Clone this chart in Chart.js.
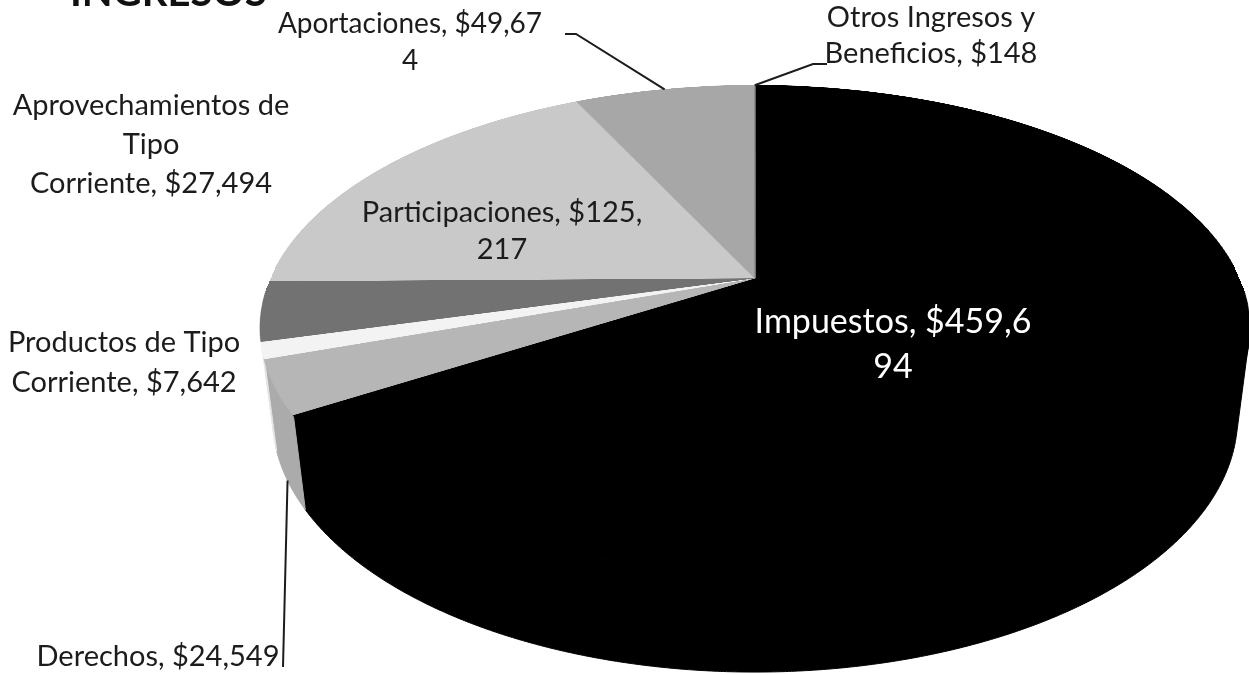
<!DOCTYPE html>
<html>
<head>
<meta charset="utf-8">
<script src="https://cdn.jsdelivr.net/npm/chart.js@4.4.1/dist/chart.umd.min.js"></script>
<style>
  html, body { margin: 0; padding: 0; background: #fff; }
  #wrap { position: relative; width: 1249px; height: 675px; }
</style>
</head>
<body>
<div id="wrap"><canvas id="ingresos"></canvas></div>
<script>
// Ingresos por rubro (pesos)
const categories = [
  "Impuestos",
  "Derechos",
  "Productos de Tipo Corriente",
  "Aprovechamientos de Tipo Corriente",
  "Participaciones",
  "Aportaciones",
  "Otros Ingresos y Beneficios"
];
const values = [459694, 24549, 7642, 27494, 125217, 49674, 148];
const sliceColors = ["#000000", "#b6b6b6", "#f3f3f3", "#727272", "#c9c9c9", "#a7a7a7", "#8c8c8c"];
const sideColors  = ["#000000", "#ababab", "#e4e4e4", "#666666", "#bdbdbd", "#9b9b9b", "#7e7e7e"];

// perspective camera for the tilted pie (radius = 1, wall height h)
const cam = { cx: 755, cy: 278, f: 2070, dist: 4.276, sinE: 0.48, h: 0.2125 };
cam.cosE = Math.sqrt(1 - cam.sinE * cam.sinE);

// label placement, text wrap points, leader lines
const labelLayout = [
  { x: 893, y: 333, lh: 45, size: 34, color: "#ffffff", breaks: [17] },
  { x: 158, y: 666, lh: 38, size: 29, breaks: [], leader: { frac: 0.5, wall: true, pts: [[283, 667]] } },
  { x: 124, y: 352, lh: 40, size: 29, breaks: [17] },
  { x: 151, y: 115, lh: 39, size: 29, breaks: [19, 24] },
  { x: 502, y: 222, lh: 37, size: 29, breaks: [22] },
  { x: 410, y: 33,  lh: 37, size: 28, breaks: [20], leader: { frac: 0.5, pts: [[576, 34], [565, 34]] } },
  { x: 931, y: 27,  lh: 36, size: 29, breaks: [16], leader: { frac: 0.5, pts: [[813, 64], [827, 64]] } }
];

function splitAt(text, breaks) {
  const out = [];
  let last = 0;
  breaks.forEach(b => { out.push(text.slice(last, b).trim()); last = b; });
  out.push(text.slice(last).trim());
  return out;
}

// X right, Y up, Z toward the viewer; returns screen [x, y]
function project(X, Y, Z) {
  const d = cam.dist - Y * cam.sinE - Z * cam.cosE;
  return [cam.cx + cam.f * X / d, cam.cy + cam.f * (Z * cam.sinE - Y * cam.cosE) / d];
}
// chart.js angle -> point on the rim (top face, or bottom of the wall)
function rimPoint(phi, bottom) {
  return project(Math.cos(phi), bottom ? -cam.h : 0, Math.sin(phi));
}

const SRC = 700; // radius of the flat pie drawn off screen
const flat = document.createElement("canvas");
flat.width = flat.height = SRC * 2;

const pie3d = {
  id: "pie3d",
  beforeDatasetsDraw(chart) {
    const ctx = chart.ctx;
    const arcs = chart.getDatasetMeta(0).data;
    const a0 = arcs[0];

    // 1. flat pie drawn by chart.js into an offscreen canvas
    const fctx = flat.getContext("2d");
    const k = SRC / a0.outerRadius;
    fctx.setTransform(1, 0, 0, 1, 0, 0);
    fctx.clearRect(0, 0, flat.width, flat.height);
    fctx.setTransform(k, 0, 0, k, SRC - a0.x * k, SRC - a0.y * k);
    arcs.forEach(a => a.draw(fctx));

    // 2. front wall: one band per slice over the part of the rim facing the camera
    const vis0 = Math.asin(1 / (cam.dist * cam.cosE)), vis1 = Math.PI - vis0;
    ctx.save();
    ctx.lineWidth = 1;
    arcs.forEach((a, i) => {
      let s = a.startAngle, e = a.endAngle;
      while (e < vis0) { s += 2 * Math.PI; e += 2 * Math.PI; }
      s = Math.max(s, vis0);
      e = Math.min(e, vis1);
      if (e <= s) return;
      const n = Math.max(2, Math.ceil((e - s) / 0.005));
      ctx.beginPath();
      for (let j = 0; j <= n; j++) {
        const p = rimPoint(s + (e - s) * j / n, false);
        j ? ctx.lineTo(p[0], p[1]) : ctx.moveTo(p[0], p[1]);
      }
      for (let j = n; j >= 0; j--) {
        const p = rimPoint(s + (e - s) * j / n, true);
        ctx.lineTo(p[0], p[1]);
      }
      ctx.closePath();
      ctx.fillStyle = sideColors[i];
      ctx.strokeStyle = sideColors[i];
      ctx.fill();
      ctx.stroke();
    });

    // 3. top face: warp the flat pie row by row with the perspective camera
    const yTop = Math.floor(project(0, 0, -1)[1]);
    const yBot = Math.ceil(project(0, 0, 1)[1]);
    const zAt = y => {
      const t = y - cam.cy;
      return t * cam.dist / (cam.f * cam.sinE + t * cam.cosE);
    };
    ctx.imageSmoothingEnabled = true;
    for (let y = yTop; y <= yBot; y++) {
      const z0 = Math.max(-1, zAt(y));
      const z1 = Math.min(1, zAt(y + 1));
      if (z1 <= z0) continue;
      const zm = (z0 + z1) / 2;
      const half = cam.f / (cam.dist - zm * cam.cosE);
      const sy = SRC * (1 + z0);
      const sh = Math.max(0.5, SRC * (z1 - z0));
      ctx.drawImage(flat, 0, sy, SRC * 2, sh, cam.cx - half, y, half * 2, 1);
    }
    ctx.restore();
    return false;
  },
  afterDraw(chart) {
    const ctx = chart.ctx;
    const arcs = chart.getDatasetMeta(0).data;
    ctx.save();

    // title, cut by the top edge as in the scan
    ctx.fillStyle = "#111";
    ctx.font = "bold 40px Lato";
    ctx.textAlign = "left";
    ctx.textBaseline = "alphabetic";
    ctx.fillText("INGRESOS", 70, 6);

    labelLayout.forEach((lay, i) => {
      const text = categories[i] + ", $" + values[i].toLocaleString("en-US");
      const lines = splitAt(text, lay.breaks);
      ctx.fillStyle = lay.color || "#1c1c1c";
      ctx.font = lay.size + "px Lato";
      ctx.textAlign = "center";
      lines.forEach((ln, k) => ctx.fillText(ln, lay.x, lay.y + k * lay.lh));

      if (lay.leader) {
        const a = arcs[i];
        const phi = a.startAngle + lay.leader.frac * (a.endAngle - a.startAngle);
        const p = rimPoint(phi, !!lay.leader.wall);
        ctx.strokeStyle = "#1c1c1c";
        ctx.lineWidth = 2;
        ctx.beginPath();
        ctx.moveTo(p[0], p[1]);
        lay.leader.pts.forEach(q => ctx.lineTo(q[0], q[1]));
        ctx.stroke();
      }
    });
    ctx.restore();
  }
};

new Chart(document.getElementById("ingresos"), {
  type: "pie",
  data: {
    labels: categories,
    datasets: [{
      data: values,
      backgroundColor: sliceColors,
      borderColor: sliceColors,
      borderWidth: 1
    }]
  },
  options: {
    responsive: true,
    maintainAspectRatio: false,
    animation: false,
    events: [],
    layout: { padding: 0 },
    plugins: {
      legend: { display: false },
      tooltip: { enabled: false },
      title: { display: false }
    }
  },
  plugins: [pie3d]
});
</script>
</body>
</html>
